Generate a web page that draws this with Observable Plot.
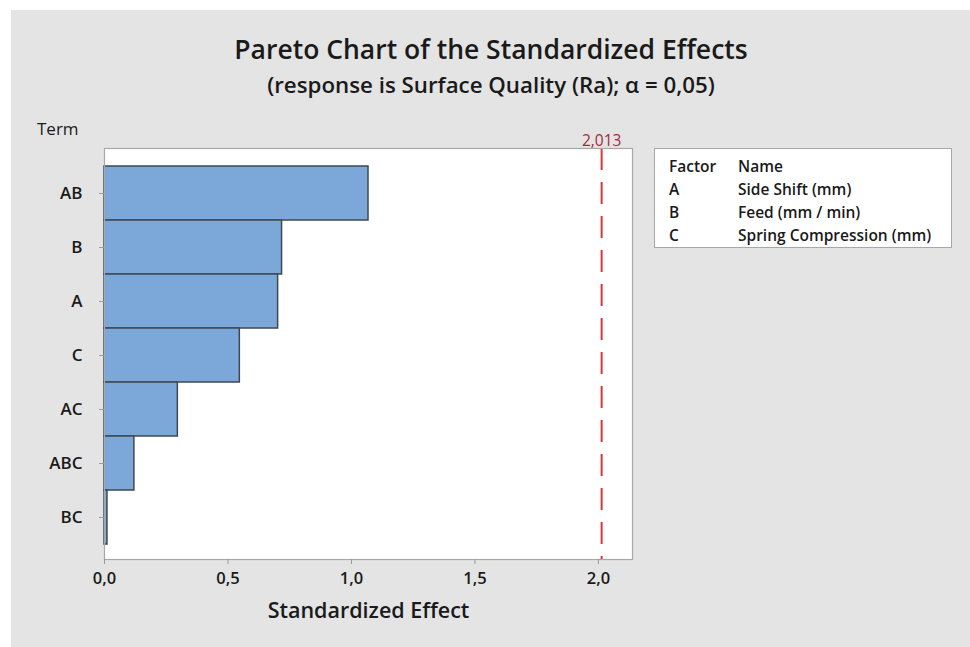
<!DOCTYPE html>
<html>
<head>
<meta charset="utf-8">
<script src="https://cdn.jsdelivr.net/npm/d3@7"></script>
<script src="https://cdn.jsdelivr.net/npm/@observablehq/plot@0.6"></script>
<style>
  html, body { margin: 0; padding: 0; background: #ffffff; }
  #page { position: relative; width: 970px; height: 647px; overflow: hidden; background: #ffffff;
          font-family: "Open Sans", "Noto Sans", sans-serif; color: #1a1a1a; }
  #bg { position: absolute; left: 11px; top: 10px; right: 0; bottom: 0; background: #e4e4e4; }
  #title { position: absolute; left: 0; width: 982px; top: 31px; text-align: center;
           font-size: 26.5px; font-weight: 600; line-height: 36px; }
  #subtitle { position: absolute; left: 0; width: 982px; top: 71px; text-align: center;
              font-size: 22.3px; font-weight: 600; line-height: 28px; }
  #term { position: absolute; left: 37px; top: 117px; font-size: 17px; font-weight: 500; line-height: 24px; }
  #chart { position: absolute; left: 0; top: 100px; }
  #legend { position: absolute; left: 654px; top: 148px; width: 298px; height: 100px;
            background: #fff; border: 1px solid #a8a8a8; box-sizing: border-box; }
  #legend table { position: absolute; left: 14px; top: 6px; border-collapse: collapse;
                  font-size: 15.5px; font-weight: 600; }
  #legend td { padding: 0; height: 23px; line-height: 23px; white-space: nowrap; }
  #legend td.f { width: 69px; }
</style>
</head>
<body>
<div id="page">
  <div id="bg"></div>
  <div id="title"></div>
  <div id="subtitle"></div>
  <div id="term"></div>
  <div id="chart"></div>
  <div id="legend"></div>
</div>
<script>
// ---- data ----
const titleText = "Pareto Chart of the Standardized Effects";
const subtitleText = "(response is Surface Quality (Ra); \u03b1 = 0,05)";
const yLabel = "Term";
const xLabel = "Standardized Effect";
const terms = ["AB", "B", "A", "C", "AC", "ABC", "BC"];
const effects = [1.069, 0.719, 0.703, 0.548, 0.297, 0.121, 0.012];
const xTicks = [0, 0.5, 1.0, 1.5, 2.0];
const critical = 2.013;
const criticalLabel = "2,013";
const legendHeader = ["Factor", "Name"];
const factors = ["A", "B", "C"];
const factorNames = ["Side Shift (mm)", "Feed (mm / min)", "Spring Compression (mm)"];

// ---- texts ----
document.getElementById("title").textContent = titleText;
document.getElementById("subtitle").textContent = subtitleText;
document.getElementById("term").textContent = yLabel;

// ---- legend ----
const tbl = document.createElement("table");
const rows = [legendHeader].concat(factors.map((f, i) => [f, factorNames[i]]));
for (const r of rows) {
  const tr = document.createElement("tr");
  r.forEach((c, j) => {
    const td = document.createElement("td");
    td.textContent = c;
    if (j === 0) td.className = "f";
    tr.appendChild(td);
  });
  tbl.appendChild(tr);
}
document.getElementById("legend").appendChild(tbl);

// ---- chart ----
const data = terms.map((t, i) => ({term: t, effect: effects[i]}));
const fmt = d => d3.format(".1f")(d).replace(".", ",");

const chart = Plot.plot({
  width: 660,
  height: 547,
  marginLeft: 104,
  marginRight: 28,
  marginTop: 48,
  marginBottom: 88,
  style: {background: "transparent", fontFamily: "'Open Sans', 'Noto Sans', sans-serif", overflow: "visible"},
  x: {domain: [0, 2.138], ticks: xTicks},
  y: {domain: terms, paddingInner: 0, paddingOuter: 0.25, align: 0.55},
  marks: [
    Plot.rect([0], {x1: 0, x2: 2.138, fill: "#ffffff", inset: 0}),
    Plot.barX(data, {x: "effect", y: "term", fill: "#7ba7d9", stroke: "#3e4852", strokeWidth: 1.5}),
    Plot.ruleX([critical], {stroke: "#d9353f", strokeWidth: 2, strokeDasharray: "22,12"}),
    Plot.text([critical], {x: d => d, text: () => criticalLabel, frameAnchor: "top", lineAnchor: "bottom",
      dy: -3, fill: "#a52a3a", fontSize: 15.5, fontWeight: 500}),
    Plot.frame({stroke: "#a8a8a8", strokeWidth: 1.2}),
    Plot.axisX({ticks: xTicks, tickFormat: fmt, tickSize: 5, tickPadding: 8, stroke: "#999",
      fontSize: 16.5, fontWeight: 600, fill: "#1a1a1a", label: xLabel, labelAnchor: "center",
      labelArrow: "none", labelOffset: 58}),
    Plot.axisY({tickSize: 5, tickPadding: 17, stroke: "#999", fontSize: 17, fontWeight: 600,
      fill: "#1a1a1a", label: null})
  ]
});
chart.querySelectorAll("[aria-label='x-axis label'] text").forEach(t => {
  t.setAttribute("font-size", "21.5");
  t.setAttribute("font-weight", "600");
});
document.getElementById("chart").appendChild(chart);
</script>
</body>
</html>
